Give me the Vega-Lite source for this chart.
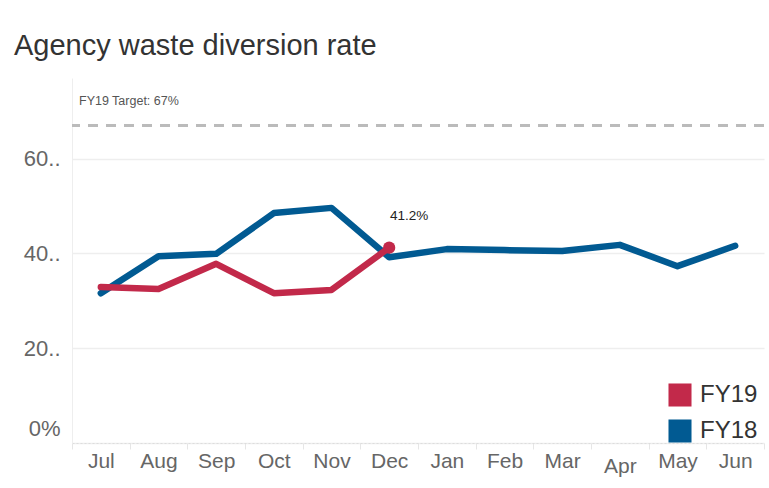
{
  "$schema": "https://vega.github.io/schema/vega-lite/v6.json",
  "width": 692,
  "height": 365,
  "autosize": {"type": "none"},
  "padding": {"left": 72, "top": 78, "right": 5, "bottom": 45},
  "background": "white",
  "config": {
    "font": "Liberation Sans, Arial, sans-serif",
    "view": {"stroke": null}
  },
  "title": {
    "text": "Agency waste diversion rate",
    "anchor": "start",
    "frame": "group",
    "dx": -58,
    "dy": 25,
    "fontSize": 29,
    "fontWeight": "normal",
    "color": "#333333",
    "baseline": "alphabetic",
    "offset": 19
  },
  "datasets": {
    "rates": [
      {"month": "Jul", "year": "FY18", "value": 31.6},
      {"month": "Aug", "year": "FY18", "value": 39.4},
      {"month": "Sep", "year": "FY18", "value": 39.9},
      {"month": "Oct", "year": "FY18", "value": 48.5},
      {"month": "Nov", "year": "FY18", "value": 49.6},
      {"month": "Dec", "year": "FY18", "value": 39.2},
      {"month": "Jan", "year": "FY18", "value": 40.9},
      {"month": "Feb", "year": "FY18", "value": 40.7},
      {"month": "Mar", "year": "FY18", "value": 40.5},
      {"month": "Apr", "year": "FY18", "value": 41.8},
      {"month": "May", "year": "FY18", "value": 37.3},
      {"month": "Jun", "year": "FY18", "value": 41.6},
      {"month": "Jul", "year": "FY19", "value": 32.9},
      {"month": "Aug", "year": "FY19", "value": 32.5},
      {"month": "Sep", "year": "FY19", "value": 37.8},
      {"month": "Oct", "year": "FY19", "value": 31.6},
      {"month": "Nov", "year": "FY19", "value": 32.3},
      {"month": "Dec", "year": "FY19", "value": 41.2}
    ],
    "target": [
      {"month": "Jul", "target": 67, "labelpos": 72.2, "label": "FY19 Target: 67%"}
    ]
  },
  "encoding": {
    "x": {
      "field": "month",
      "type": "ordinal",
      "sort": ["Jul","Aug","Sep","Oct","Nov","Dec","Jan","Feb","Mar","Apr","May","Jun"],
      "scale": {"type": "band", "paddingInner": 0, "paddingOuter": 0},
      "axis": {
        "title": null,
        "labelAngle": 0,
        "labelFontSize": 21,
        "labelColor": "#666666",
        "labelPadding": {"condition": {"test": "datum.value == 'Apr'", "value": 6}, "value": 1},
        "tickBand": "extent",
        "ticks": true,
        "tickSize": 6,
        "tickColor": "#e6e6e6",
        "domainColor": "#dddddd",
        "domainDash": [2, 2],
        "grid": false
      }
    }
  },
  "layer": [
    {
      "data": {"name": "target"},
      "mark": {"type": "rule", "strokeDash": [10, 8], "strokeWidth": 3, "color": "#bbbbbb"},
      "encoding": {"y": {"field": "target", "type": "quantitative"}, "x": null}
    },
    {
      "data": {"name": "target"},
      "mark": {"type": "text", "align": "left", "baseline": "middle", "fontSize": 12.5, "color": "#555555", "dx": 7},
      "encoding": {
        "x": {"field": "month", "type": "ordinal", "bandPosition": 0},
        "y": {"field": "labelpos", "type": "quantitative"},
        "text": {"field": "label"}
      }
    },
    {
      "data": {"name": "rates"},
      "transform": [{"filter": "datum.year == 'FY18'"}],
      "mark": {"type": "line", "strokeWidth": 6.5, "strokeCap": "round", "strokeJoin": "round"},
      "encoding": {
        "y": {
          "field": "value",
          "type": "quantitative",
          "scale": {"domain": [0, 77], "nice": false, "zero": true},
          "axis": {
            "title": null,
            "values": [0, 20, 40, 60],
            "labelExpr": "datum.value == 0 ? '0%' : datum.value + '..'",
            "labelFontSize": 22,
            "labelColor": "#666666",
            "labelPadding": 12,
            "labelFlush": true,
            "labelFlushOffset": -3,
            "ticks": false,
            "grid": true,
            "gridColor": "#eeeeee",
            "gridWidth": 1.5,
            "domainColor": "#eeeeee"
          }
        },
        "color": {
          "field": "year",
          "type": "nominal",
          "scale": {"domain": ["FY19", "FY18"], "range": ["#C2294A", "#015A92"]},
          "legend": {
            "title": null,
            "orient": "none",
            "legendX": 596,
            "legendY": 305,
            "symbolType": "square",
            "symbolSize": 530,
            "symbolStrokeWidth": 0,
            "symbolOpacity": 1,
            "labelFontSize": 24,
            "labelColor": "#333333",
            "labelOffset": 8,
            "rowPadding": 12
          }
        }
      }
    },
    {
      "data": {"name": "rates"},
      "transform": [{"filter": "datum.year == 'FY19'"}],
      "mark": {"type": "line", "strokeWidth": 6.5, "strokeCap": "round", "strokeJoin": "round"},
      "encoding": {
        "y": {"field": "value", "type": "quantitative"},
        "color": {"field": "year", "type": "nominal"}
      }
    },
    {
      "data": {"name": "rates"},
      "transform": [{"filter": "datum.year == 'FY19' && datum.month == 'Dec'"}],
      "mark": {"type": "point", "filled": true, "size": 150, "opacity": 1},
      "encoding": {
        "y": {"field": "value", "type": "quantitative"},
        "color": {"field": "year", "type": "nominal"}
      }
    },
    {
      "data": {"name": "rates"},
      "transform": [{"filter": "datum.year == 'FY19' && datum.month == 'Dec'"}],
      "mark": {"type": "text", "fontSize": 13.5, "color": "#222222", "dx": 20, "dy": -32},
      "encoding": {
        "y": {"field": "value", "type": "quantitative"},
        "text": {"value": "41.2%"}
      }
    }
  ]
}
